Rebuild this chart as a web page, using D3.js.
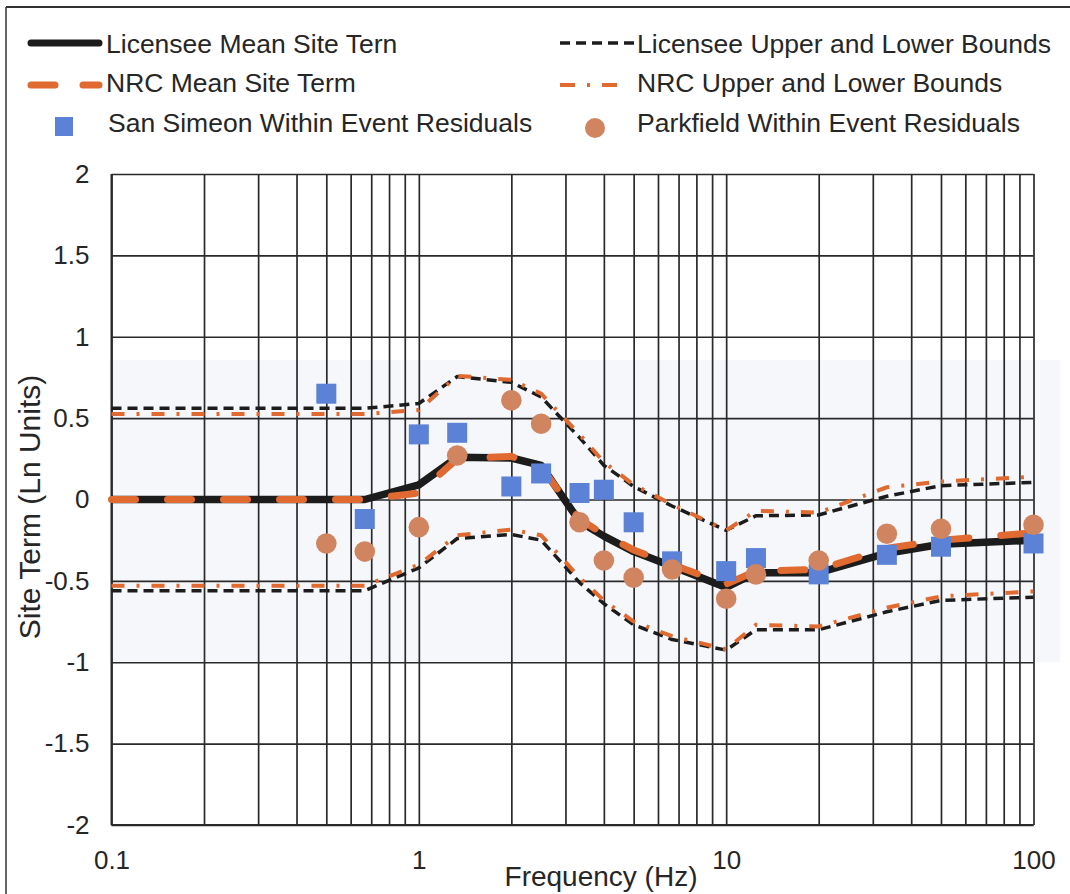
<!DOCTYPE html>
<html>
<head>
<meta charset="utf-8">
<script src="https://cdn.jsdelivr.net/npm/d3@7"></script>
<style>
  html, body { margin: 0; padding: 0; background: #fff; }
  svg { display: block; font-family: "Liberation Sans", Arial, Helvetica, sans-serif; }
</style>
</head>
<body>
<svg id="chart" width="1070" height="894"></svg>
<script>
// Frequencies (Hz) at which the site-term curves are defined
const lineFreqs = [0.1, 0.5, 0.667, 1, 1.333, 2, 2.5, 3.333, 4, 5, 6.667, 10, 12.5, 20, 33.33, 50, 100];

// Site term curves (ln units)
const licenseeMean  = [0, 0, 0, 0.09, 0.26, 0.255, 0.21, -0.135, -0.225, -0.32, -0.41, -0.54, -0.45, -0.45, -0.33, -0.275, -0.25];
const nrcMean       = [0, 0, 0, 0.04, 0.25, 0.265, 0.2, -0.12, -0.215, -0.31, -0.40, -0.52, -0.44, -0.43, -0.30, -0.25, -0.205];
const licenseeUpper = [0.56, 0.56, 0.56, 0.59, 0.755, 0.72, 0.63, 0.38, 0.21, 0.08, -0.04, -0.19, -0.10, -0.095, 0.02, 0.085, 0.105];
const licenseeLower = [-0.56, -0.56, -0.56, -0.42, -0.24, -0.215, -0.25, -0.51, -0.64, -0.77, -0.86, -0.925, -0.80, -0.80, -0.69, -0.62, -0.60];
const nrcUpper      = [0.525, 0.525, 0.525, 0.55, 0.76, 0.735, 0.65, 0.40, 0.23, 0.09, -0.03, -0.19, -0.07, -0.08, 0.075, 0.11, 0.14];
const nrcLower      = [-0.53, -0.53, -0.53, -0.40, -0.22, -0.185, -0.22, -0.48, -0.62, -0.75, -0.84, -0.92, -0.77, -0.78, -0.665, -0.595, -0.565];

// Within-event residuals
const residualFreqs = [0.5, 0.667, 1, 1.333, 2, 2.5, 3.333, 4, 5, 6.667, 10, 12.5, 20, 33.33, 50, 100];
const sanSimeon = [0.65, -0.12, 0.40, 0.41, 0.08, 0.16, 0.04, 0.06, -0.14, -0.38, -0.44, -0.36, -0.46, -0.34, -0.29, -0.27];
const parkfield = [-0.27, -0.32, -0.17, 0.27, 0.61, 0.465, -0.14, -0.375, -0.48, -0.43, -0.61, -0.46, -0.375, -0.21, -0.18, -0.155];

// Axis ticks
const xTickValues = [0.1, 1, 10, 100];
const xTickLabels = ["0.1", "1", "10", "100"];
const yTickValues = [-2, -1.5, -1, -0.5, 0, 0.5, 1, 1.5, 2];
const yTickLabels = ["-2", "-1.5", "-1", "-0.5", "0", "0.5", "1", "1.5", "2"];

const legendLabels = [
  "Licensee Mean Site Tern",
  "Licensee Upper and Lower Bounds",
  "NRC Mean Site Term",
  "NRC Upper and Lower Bounds",
  "San Simeon Within Event Residuals",
  "Parkfield Within Event Residuals"
];

const colors = {
  black: "#1c1c1c",
  orange: "#e06a30",
  square: "#5b82d6",
  circle: "#d18460",
  grid: "#2a2a2a",
  text: "#262626"
};

const svg = d3.select("#chart");

const x = d3.scaleLog().domain([0.1, 100]).range([111.5, 1033.5]);
const y = d3.scaleLinear().domain([-2, 2]).range([825, 174]);

// Outer frame (top and left edges)
svg.append("line").attr("x1", 6).attr("x2", 1070).attr("y1", 7).attr("y2", 7)
  .attr("stroke", "#333").attr("stroke-width", 2);
svg.append("line").attr("x1", 6).attr("x2", 6).attr("y1", 7).attr("y2", 894)
  .attr("stroke", "#333").attr("stroke-width", 1.5);

// Lightly tinted band behind the central part of the plot
svg.append("rect")
  .attr("x", 110).attr("y", 360).attr("width", 950).attr("height", 302)
  .attr("fill", "#f6f7fa");

// Gridlines: every integer multiple within each decade, every 0.5 vertically
const minorX = [];
[0.1, 1, 10].forEach(d => { for (let k = 1; k <= 9; k++) minorX.push(+(d * k).toPrecision(3)); });
minorX.push(100);

const grid = svg.append("g");
grid.append("g")
  .attr("transform", `translate(0,${y(-2)})`)
  .call(d3.axisBottom(x).tickValues(minorX).tickSize(-(y(-2) - y(2))).tickFormat(""))
  .call(g => g.select(".domain").remove())
  .call(g => g.selectAll("line").attr("stroke", colors.grid).attr("stroke-width", 1.7));
grid.append("g")
  .attr("transform", `translate(${x(0.1)},0)`)
  .call(d3.axisLeft(y).tickValues(yTickValues).tickSize(-(x(100) - x(0.1))).tickFormat(""))
  .call(g => g.select(".domain").remove())
  .call(g => g.selectAll("line").attr("stroke", colors.grid).attr("stroke-width", 1.7));

// Axis lines
svg.append("line").attr("x1", x(0.1)).attr("x2", x(0.1)).attr("y1", y(2)).attr("y2", y(-2))
  .attr("stroke", colors.grid).attr("stroke-width", 2);
svg.append("line").attr("x1", x(0.1)).attr("x2", x(100)).attr("y1", y(-2)).attr("y2", y(-2))
  .attr("stroke", colors.grid).attr("stroke-width", 2);

// Tick labels
const yAxis = svg.append("g")
  .attr("transform", `translate(${x(0.1)},0)`)
  .call(d3.axisLeft(y).tickValues(yTickValues).tickSize(0).tickPadding(22)
    .tickFormat((d, i) => yTickLabels[i]));
yAxis.select(".domain").remove();
yAxis.selectAll("text").attr("font-size", 26).attr("fill", colors.text)
  .attr("font-family", "Liberation Sans, Arial, sans-serif");

const xAxis = svg.append("g")
  .attr("transform", `translate(0,${y(-2)})`)
  .call(d3.axisBottom(x).tickValues(xTickValues).tickSize(0).tickPadding(26)
    .tickFormat((d, i) => xTickLabels[i]));
xAxis.select(".domain").remove();
xAxis.selectAll("text").attr("font-size", 26).attr("fill", colors.text)
  .attr("font-family", "Liberation Sans, Arial, sans-serif");

// Axis titles
svg.append("text")
  .attr("x", 601).attr("y", 886)
  .attr("text-anchor", "middle")
  .attr("font-size", 28).attr("fill", colors.text)
  .text("Frequency (Hz)");
svg.append("text")
  .attr("transform", "translate(40,507) rotate(-90)")
  .attr("text-anchor", "middle")
  .attr("font-size", 30).attr("fill", colors.text)
  .text("Site Term (Ln Units)");

// Curves
const line = d3.line().x(d => x(d[0])).y(d => y(d[1]));
const pairs = vals => lineFreqs.map((f, i) => [f, vals[i]]);

const plot = svg.append("g");
const boundStyles = {
  licensee: { stroke: colors.black, width: 3.5, dash: "10,6", cap: "butt" },
  nrc: { stroke: colors.orange, width: 4, dash: "13,12,3,12", cap: "butt" }
};

[[licenseeUpper, "licensee"], [licenseeLower, "licensee"], [nrcUpper, "nrc"], [nrcLower, "nrc"]]
  .forEach(([vals, key]) => {
    const s = boundStyles[key];
    plot.append("path").attr("d", line(pairs(vals)))
      .attr("fill", "none").attr("stroke", s.stroke).attr("stroke-width", s.width)
      .attr("stroke-dasharray", s.dash).attr("stroke-linecap", s.cap);
  });

plot.append("path").attr("d", line(pairs(licenseeMean)))
  .attr("fill", "none").attr("stroke", colors.black).attr("stroke-width", 7.5)
  .attr("stroke-linejoin", "round");
plot.append("path").attr("d", line(pairs(nrcMean)))
  .attr("fill", "none").attr("stroke", colors.orange).attr("stroke-width", 7)
  .attr("stroke-dasharray", "24,32").attr("stroke-linecap", "round");

// Residual markers
const sq = 20;
plot.selectAll("rect.ss").data(residualFreqs.map((f, i) => [f, sanSimeon[i]]))
  .enter().append("rect").attr("class", "ss")
  .attr("x", d => x(d[0]) - sq / 2).attr("y", d => y(d[1]) - sq / 2)
  .attr("width", sq).attr("height", sq).attr("fill", colors.square);
plot.selectAll("circle.pf").data(residualFreqs.map((f, i) => [f, parkfield[i]]))
  .enter().append("circle").attr("class", "pf")
  .attr("cx", d => x(d[0])).attr("cy", d => y(d[1]))
  .attr("r", 10.3).attr("fill", colors.circle);

// Legend
const legend = svg.append("g").attr("font-size", 26.5).attr("fill", colors.text);
const rows = [53, 92, 132];
const leftTextX = 106, rightTextX = 637;

legend.append("line").attr("x1", 31).attr("x2", 99).attr("y1", 43).attr("y2", 43)
  .attr("stroke", colors.black).attr("stroke-width", 7).attr("stroke-linecap", "round");
legend.append("line").attr("x1", 31).attr("x2", 99).attr("y1", 85).attr("y2", 85)
  .attr("stroke", colors.orange).attr("stroke-width", 7).attr("stroke-linecap", "round")
  .attr("stroke-dasharray", "24,28");
legend.append("rect").attr("x", 55).attr("y", 117).attr("width", 18).attr("height", 19)
  .attr("fill", colors.square);

legend.append("line").attr("x1", 560).attr("x2", 636).attr("y1", 43).attr("y2", 43)
  .attr("stroke", colors.black).attr("stroke-width", 3.5).attr("stroke-dasharray", "10,6");
legend.append("line").attr("x1", 560).attr("x2", 620).attr("y1", 85).attr("y2", 85)
  .attr("stroke", colors.orange).attr("stroke-width", 4).attr("stroke-dasharray", "15,12,3,12");
legend.append("circle").attr("cx", 595).attr("cy", 128).attr("r", 10)
  .attr("fill", colors.circle);

legend.selectAll("text.lg").data(legendLabels).enter().append("text")
  .attr("class", "lg")
  .attr("x", (d, i) => i % 2 === 0 ? (i === 4 ? 108 : leftTextX) : rightTextX)
  .attr("y", (d, i) => rows[Math.floor(i / 2)])
  .text(d => d);
</script>
</body>
</html>
